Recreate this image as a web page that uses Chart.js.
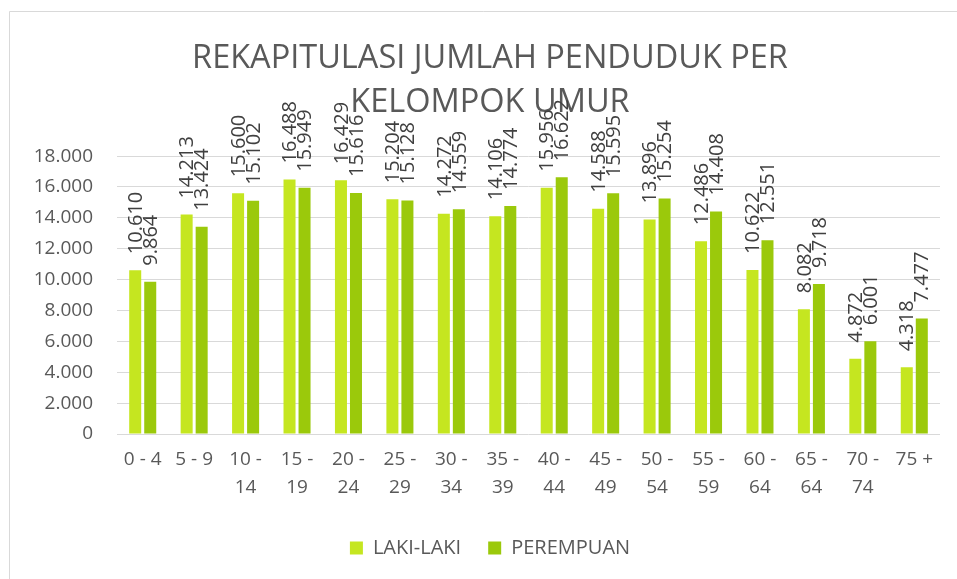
<!DOCTYPE html>
<html>
<head>
<meta charset="utf-8">
<script src="https://cdn.jsdelivr.net/npm/chart.js@4"></script>
<style>
  html, body { margin: 0; padding: 0; background: #ffffff; }
  #wrap { width: 957px; height: 579px; position: relative; }
</style>
</head>
<body>
<div id="wrap"><canvas id="c" width="957" height="579"></canvas></div>
<script>
const categories = [["0 - 4"], ["5 - 9"], ["10 -", "14"], ["15 -", "19"], ["20 -", "24"], ["25 -", "29"], ["30 -", "34"], ["35 -", "39"], ["40 -", "44"], ["45 -", "49"], ["50 -", "54"], ["55 -", "59"], ["60 -", "64"], ["65 -", "64"], ["70 -", "74"], ["75 +"]];
const lakiLaki = [10610, 14213, 15600, 16488, 16429, 15204, 14272, 14106, 15956, 14588, 13896, 12486, 10622, 8082, 4872, 4318];
const perempuan = [9864, 13424, 15102, 15949, 15616, 15128, 14559, 14774, 16622, 15595, 15254, 14408, 12551, 9718, 6001, 7477];
const seriesNames = ["LAKI-LAKI", "PEREMPUAN"];
const titleLines = ["REKAPITULASI JUMLAH PENDUDUK PER", "KELOMPOK UMUR"];
const yTickMin = 0, yTickMax = 18000, yTickStep = 2000;

const FONT = "'Open Sans', 'Noto Sans', sans-serif";
const fmt = v => String(v).replace(/\B(?=(\d{3})+(?!\d))/g, '.');

const frame = {
  id: 'frame',
  beforeDraw(chart) {
    const ctx = chart.ctx;
    ctx.save();
    ctx.fillStyle = '#ffffff';
    ctx.fillRect(0, 0, chart.width, chart.height);
    ctx.strokeStyle = '#d9d9d9';
    ctx.lineWidth = 1;
    ctx.beginPath();
    ctx.moveTo(9.5, chart.height);
    ctx.lineTo(9.5, 11.5);
    ctx.lineTo(chart.width, 11.5);
    ctx.stroke();
    ctx.restore();
  }
};

const barLabels = {
  id: 'barLabels',
  afterDatasetsDraw(chart) {
    const ctx = chart.ctx;
    ctx.save();
    ctx.font = "20px " + FONT;
    ctx.fillStyle = '#404040';
    ctx.textAlign = 'left';
    ctx.textBaseline = 'middle';
    chart.data.datasets.forEach((ds, di) => {
      const meta = chart.getDatasetMeta(di);
      meta.data.forEach((bar, i) => {
        ctx.save();
        ctx.translate(bar.x + 1, bar.y - 16);
        ctx.rotate(-Math.PI / 2);
        ctx.fillText(fmt(ds.data[i]), 0, 0);
        ctx.restore();
      });
    });
    ctx.restore();
  }
};

new Chart(document.getElementById('c'), {
  type: 'bar',
  data: {
    labels: categories,
    datasets: [
      { label: seriesNames[0], data: lakiLaki, backgroundColor: '#c5e620', borderWidth: 0 },
      { label: seriesNames[1], data: perempuan, backgroundColor: '#9bc90b', borderWidth: 0 }
    ]
  },
  options: {
    responsive: false,
    animation: false,
    devicePixelRatio: 1,
    layout: { padding: { left: 25, right: 2, top: 11, bottom: 11 } },
    datasets: { bar: { categoryPercentage: 0.584, barPercentage: 0.8 } },
    scales: {
      x: {
        grid: { display: false, drawTicks: false },
        border: { display: false },
        ticks: { color: '#595959', font: { family: FONT, size: 19, lineHeight: 1.47 }, padding: 12, maxRotation: 0, autoSkip: false },
        afterFit(s) { s.height = 77; }
      },
      y: {
        min: yTickMin, max: yTickMax,
        grid: { color: '#d9d9d9', lineWidth: 1, drawTicks: false },
        border: { display: false },
        ticks: { stepSize: yTickStep, color: '#595959', font: { family: FONT, size: 19 }, padding: 24, callback: v => fmt(v) },
        afterFit(s) { s.width = 92; }
      },
      yRightSpace: {
        position: 'right',
        display: true,
        min: yTickMin, max: yTickMax,
        grid: { display: false, drawTicks: false },
        border: { display: false },
        ticks: { display: false },
        afterFit(s) { s.width = 15; }
      }
    },
    plugins: {
      title: {
        display: true,
        text: titleLines,
        color: '#595959',
        font: { family: FONT, size: 32.5, weight: 'normal', lineHeight: 1.34 },
        padding: { top: 26, bottom: 32 }
      },
      legend: {
        position: 'bottom',
        labels: { color: '#595959', font: { family: FONT, size: 20 }, boxWidth: 13, boxHeight: 13, padding: 27 }
      },
      tooltip: { enabled: false }
    }
  },
  plugins: [frame, barLabels]
});
</script>
</body>
</html>
